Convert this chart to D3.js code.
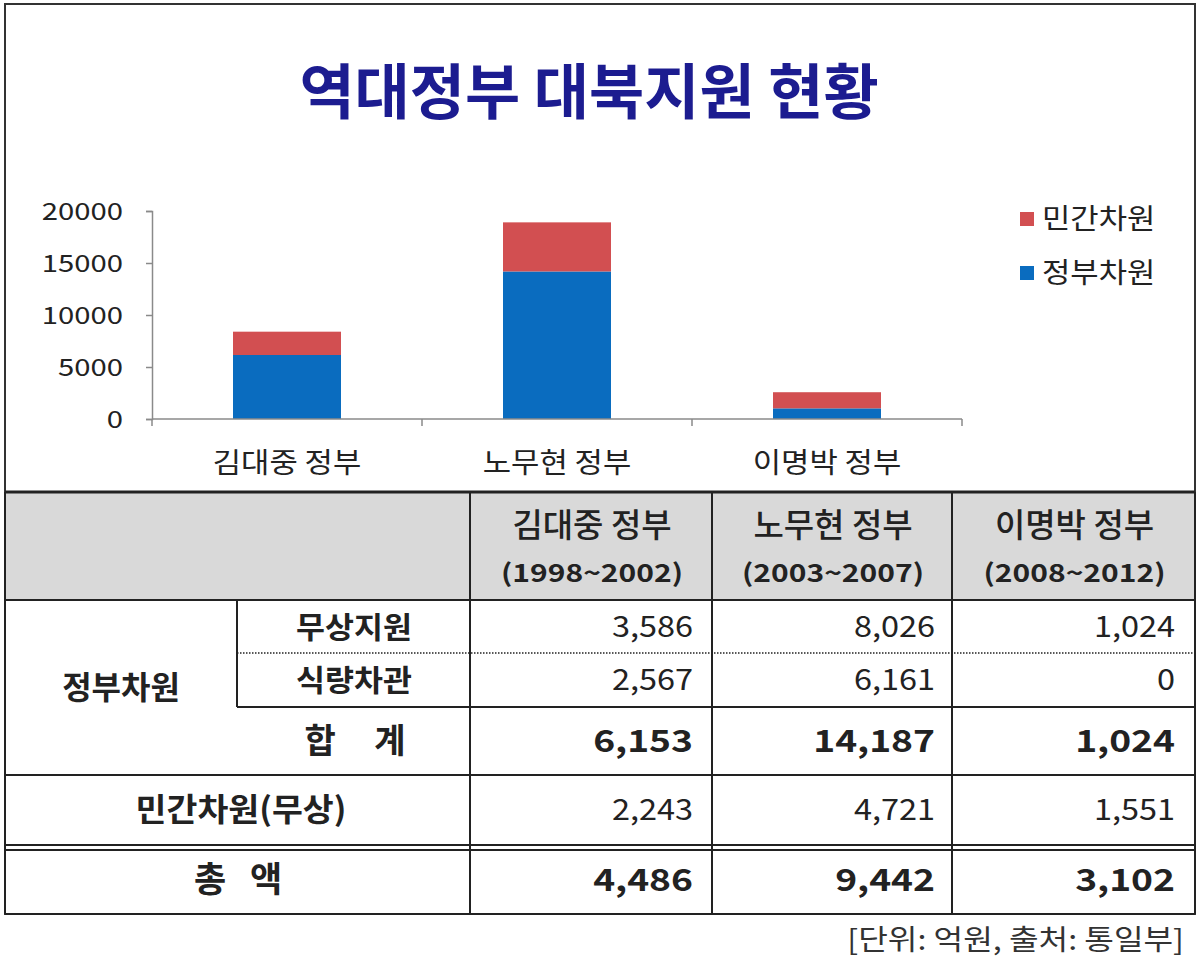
<!DOCTYPE html>
<html><head><meta charset="utf-8">
<script src="https://cdn.jsdelivr.net/npm/d3@7"></script>
<style>
html,body{margin:0;padding:0;background:#fff;}
svg{display:block;font-family:"Noto Sans CJK KR","Noto Sans",sans-serif;}
</style></head>
<body>
<svg id="c" width="1200" height="961"></svg>
<script>
// ---- data ----
const title = "역대정부 대북지원 현황";
const categories = ["김대중 정부", "노무현 정부", "이명박 정부"];
const periods = ["(1998~2002)", "(2003~2007)", "(2008~2012)"];
const seriesNames = ["정부차원", "민간차원"];
const govValues = [6153, 14187, 1024];
const privValues = [2243, 4721, 1551];
const yTicks = [0, 5000, 10000, 15000, 20000];
const grantAid = ["3,586", "8,026", "1,024"];
const foodLoan = ["2,567", "6,161", "0"];
const govTotal = ["6,153", "14,187", "1,024"];
const privAid = ["2,243", "4,721", "1,551"];
const grandTotal = ["4,486", "9,442", "3,102"];
const footnote = "[단위: 억원, 출처: 통일부]";
const colors = {"정부차원": "#0a6cbf", "민간차원": "#d24f51"};

const svg = d3.select("#c");

// text helper with horizontal stretch about the anchor point
function txt(g, str, x, y, o) {
  o = o || {};
  return g.append("text")
    .attr("transform", `translate(${x},${y}) scale(${o.sx||1},1)`)
    .attr("dy", o.dy == null ? "0.35em" : o.dy)
    .attr("text-anchor", o.anchor || "middle")
    .attr("font-size", o.size || 28)
    .attr("font-weight", o.weight || 400)
    .attr("fill", o.fill || "#222")
    .attr("xml:space", "preserve")
    .text(str);
}

// frame
svg.append("rect").attr("x",5).attr("y",4).attr("width",1190).attr("height",910)
  .attr("fill","#fff").attr("stroke","#333").attr("stroke-width",2);

// title
txt(svg, title, 589, 114, {size:60, weight:700, fill:"#1c1c90", dy:0});

// ---- chart ----
const x = d3.scaleBand().domain(categories).range([152,962]).paddingInner(0.6).paddingOuter(0.3);
const y = d3.scaleLinear().domain([0,20000]).range([419,211]);

const rows = categories.map((c,i)=>({cat:c,"정부차원":govValues[i],"민간차원":privValues[i]}));
const stacked = d3.stack().keys(seriesNames)(rows);

svg.append("g").selectAll("g").data(stacked).join("g")
  .attr("fill",d=>colors[d.key])
  .selectAll("rect").data(d=>d).join("rect")
  .attr("x",d=>x(d.data.cat)).attr("width",x.bandwidth())
  .attr("y",d=>y(d[1])).attr("height",d=>y(d[0])-y(d[1]));

// y axis
const yAxis = svg.append("g").attr("transform","translate(152,0)")
  .call(d3.axisLeft(y).tickValues(yTicks).tickSize(6).tickFormat(d3.format("d")));
yAxis.selectAll("path,line").attr("stroke","#8a8a8a").attr("stroke-width",1.5);
yAxis.selectAll("text")
  .attr("x",0).attr("dy","0.36em")
  .attr("transform","translate(-29,0) scale(1.22,1)")
  .attr("font-size",24).attr("fill","#222").attr("font-family","'Noto Sans CJK KR'");

// x axis line and boundary ticks
const xg = svg.append("g");
xg.append("line").attr("x1",152).attr("x2",962).attr("y1",419).attr("y2",419)
  .attr("stroke","#8a8a8a").attr("stroke-width",1.5);
const bounds = categories.map(c=>x(c)-x.step()*x.paddingOuter()).concat([x.range()[1]]);
xg.selectAll("line.tk").data(bounds).join("line").attr("class","tk")
  .attr("x1",d=>d).attr("x2",d=>d).attr("y1",419).attr("y2",426)
  .attr("stroke","#8a8a8a").attr("stroke-width",1.5);
categories.forEach(c=>txt(xg, c, x(c)+x.bandwidth()/2, 463, {size:28, sx:1.1}));

// legend
const legendOrder = ["민간차원","정부차원"];
legendOrder.forEach((d,i)=>{
  const yy = 219 + i*54;
  svg.append("rect").attr("x",1020).attr("y",yy-7).attr("width",14).attr("height",14).attr("fill",colors[d]);
  txt(svg, d, 1042, yy, {size:28, anchor:"start", sx:1.1});
});

// ---- table ----
const colX = [5,237,470,712,952,1195];
const t = svg.append("g");
t.append("rect").attr("x",5).attr("y",492).attr("width",1190).attr("height",108).attr("fill","#d9d9d9");

const line = (x1,y1,x2,y2,w,dash)=>t.append("line").attr("x1",x1).attr("y1",y1).attr("x2",x2).attr("y2",y2)
  .attr("stroke","#222").attr("stroke-width",w||2).attr("stroke-dasharray",dash||null);
line(5,492,1195,492,3);
line(5,600,1195,600,2);
line(237,653,1195,653,1.5,"1.5,1.5");
line(237,707,1195,707,2);
line(5,775,1195,775,2);
line(5,845,1195,845,2);
line(5,850,1195,850,2);
line(5,914,1195,914,2);
line(237,600,237,707,2);
[470,712,952].forEach(xx=>line(xx,492,xx,914,2));
line(5,492,5,914,2); line(1195,492,1195,914,2);

// header
categories.forEach((c,i)=>{
  const cx = (colX[i+2]+colX[i+3])/2 + 1;
  txt(t, c, cx, 525, {size:33, weight:500});
  txt(t, periods[i], cx, 573, {size:25, weight:700, sx:1.2});
});

// row labels
txt(t, "무상지원", 354, 627, {size:30, weight:700, sx:1.05});
txt(t, "식량차관", 354, 680, {size:30, weight:700, sx:1.05});
txt(t, "합     계", 355, 741, {size:34, weight:700});
txt(t, "정부차원", 121, 688, {size:32, weight:700, sx:1.0});
txt(t, "민간차원(무상)", 241, 810, {size:32, weight:700, sx:1.05});
txt(t, "총   액", 238, 880, {size:35, weight:700});

const dataRows = [
  {vals:grantAid, y:627, w:400, size:29, sx:1.12},
  {vals:foodLoan, y:680, w:400, size:29, sx:1.12},
  {vals:govTotal, y:741, w:700, size:31, sx:1.2},
  {vals:privAid, y:810, w:400, size:29, sx:1.12},
  {vals:grandTotal, y:880, w:700, size:31, sx:1.2}
];
const rightX = [693,935,1175];
dataRows.forEach(r=>{
  r.vals.forEach((v,i)=>txt(t, v, rightX[i], r.y, {size:r.size, weight:r.w, anchor:"end", sx:r.sx}));
});

txt(svg, footnote, 1184, 940, {size:28, anchor:"end", sx:1.15, fill:"#333"});
</script>
</body></html>
